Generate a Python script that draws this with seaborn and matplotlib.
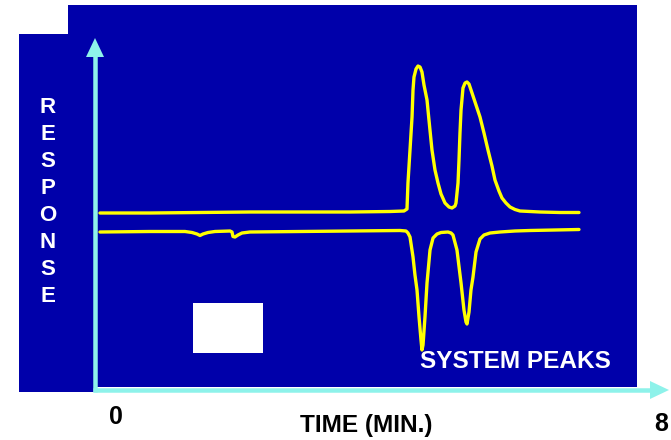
import matplotlib
matplotlib.use("Agg")
import matplotlib.pyplot as plt
from matplotlib.patches import Rectangle, Polygon
from matplotlib.lines import Line2D
import numpy as np
import pandas as pd
import seaborn as sns

# ---------------- data (time in min, response in arbitrary units) ----------------
upper_time = [0.071, 0.786, 1.5, 2.214, 2.929, 3.643, 4.214, 4.414, 4.457, 4.471,
              4.5, 4.529, 4.543, 4.557, 4.586, 4.614, 4.643, 4.671, 4.7, 4.743,
              4.771, 4.814, 4.857, 4.9, 4.943, 5.0, 5.057, 5.1, 5.143, 5.157,
              5.186, 5.2, 5.214, 5.229, 5.257, 5.286, 5.314, 5.343, 5.386, 5.443,
              5.5, 5.557, 5.614, 5.671, 5.714, 5.771, 5.814, 5.871, 5.929, 6.0,
              6.071, 6.357, 6.643, 6.914]
upper_resp = [17.7, 17.7, 17.75, 17.8, 17.8, 17.8, 17.85, 17.9, 18.1, 20.7,
              24.0, 27.3, 30.0, 31.3, 32.1, 32.4, 32.3, 31.8, 30.5, 29.0,
              27.0, 24.0, 22.0, 20.7, 19.6, 18.7, 18.3, 18.2, 18.4, 18.7,
              20.7, 23.0, 25.7, 28.0, 30.2, 30.7, 30.8, 30.6, 29.7, 28.5,
              27.3, 25.7, 24.0, 22.4, 21.0, 19.9, 19.2, 18.7, 18.3, 18.05,
              17.9, 17.8, 17.75, 17.75]

lower_time = [0.071, 0.786, 1.286, 1.386, 1.457, 1.5, 1.543, 1.614, 1.714, 1.929,
              1.957, 1.971, 2.0, 2.043, 2.1, 2.214, 2.929, 3.643, 4.357, 4.443,
              4.471, 4.5, 4.543, 4.571, 4.6, 4.629, 4.657, 4.671, 4.686, 4.714,
              4.743, 4.786, 4.829, 4.886, 4.943, 5.043, 5.086, 5.114, 5.171, 5.229,
              5.271, 5.3, 5.314, 5.343, 5.371, 5.4, 5.443, 5.5, 5.557, 5.643,
              5.786, 6.0, 6.214, 6.571, 6.914]
lower_resp = [15.8, 15.85, 15.85, 15.75, 15.6, 15.45, 15.6, 15.75, 15.85, 15.9,
              15.8, 15.35, 15.3, 15.5, 15.7, 15.8, 15.85, 15.9, 15.95, 15.9,
              15.7, 15.3, 13.3, 11.5, 10.0, 7.3, 5.0, 4.0, 4.5, 7.3,
              10.7, 14.0, 15.2, 15.6, 15.75, 15.8, 15.7, 15.5, 14.0, 10.7,
              8.0, 6.8, 6.6, 7.8, 10.0, 11.3, 13.8, 15.1, 15.5, 15.7,
              15.8, 15.9, 15.95, 16.0, 16.05]

x_tick_labels = ["0", "8"]
x_label = "TIME (MIN.)"
y_label = "RESPONSE"
annotation = "SYSTEM PEAKS"

# ---------------- styling ----------------
sns.set_style("white")
plt.rcParams["font.family"] = ["Liberation Sans", "DejaVu Sans"]

W, H = 671, 440
fig = plt.figure(figsize=(W / 100, H / 100), dpi=100, facecolor="white")
ax = fig.add_axes([0, 0, 1, 1])
ax.set_facecolor("white")
ax.axis("off")

BLUE = "#0000AA"
CYAN = "#8EF2EA"
YELLOW = "#FFFF00"


def fx(px):
    return px / W


def fy(py):
    return 1 - py / H


def rect(x0, y0, x1, y1, color, z):
    r = Rectangle((fx(x0), fy(y1)), fx(x1) - fx(x0), fy(y0) - fy(y1),
                  transform=fig.transFigure, facecolor=color, edgecolor="none",
                  zorder=z)
    ax.add_patch(r)


# background panels
rect(68, 5, 637, 387, BLUE, 0)
rect(19, 34, 95, 392, BLUE, 0)
# white box
rect(193, 303, 263, 353, "white", 1)

# traces
df_u = pd.DataFrame({"time": upper_time, "response": upper_resp})
df_l = pd.DataFrame({"time": lower_time, "response": lower_resp})
sns.lineplot(data=df_u, x="time", y="response", sort=False, estimator=None,
             color=YELLOW, linewidth=2.4, ax=ax, zorder=3)
sns.lineplot(data=df_l, x="time", y="response", sort=False, estimator=None,
             color=YELLOW, linewidth=2.4, ax=ax, zorder=3)

# axis limits so that t=0 sits on the vertical arrow
ax.set_xlim(-95 / 70, 576 / 70)
ax.set_ylim(-5.0, 39.0)
ax.axis("off")

# arrows (axes)
lw_pt = 4.5 * 0.72
ax.add_line(Line2D([fx(95), fx(95)], [fy(392), fy(56)], transform=fig.transFigure,
                   color=CYAN, linewidth=lw_pt, solid_capstyle="butt", zorder=4))
ax.add_patch(Polygon([(fx(86), fy(57)), (fx(104), fy(57)), (fx(95), fy(38))],
                     closed=True, transform=fig.transFigure, facecolor=CYAN,
                     edgecolor="none", zorder=4))
ax.add_line(Line2D([fx(93), fx(651)], [fy(390), fy(390)], transform=fig.transFigure,
                   color=CYAN, linewidth=lw_pt, solid_capstyle="butt", zorder=4))
ax.add_patch(Polygon([(fx(650), fy(381)), (fx(650), fy(399)), (fx(669), fy(390))],
                     closed=True, transform=fig.transFigure, facecolor=CYAN,
                     edgecolor="none", zorder=4))

# texts
fig.text(fx(116), fy(417), x_tick_labels[0], color="black", fontsize=18,
         fontweight="bold", ha="center", va="center")
fig.text(fx(661), fy(424), x_tick_labels[1], color="black", fontsize=18,
         fontweight="bold", ha="center", va="center")
fig.text(fx(366), fy(425), x_label, color="black", fontsize=17.6,
         fontweight="bold", ha="center", va="center")
fig.text(fx(515), fy(361), annotation, color="white", fontsize=17.6,
         fontweight="bold", ha="center", va="center", zorder=5)
fig.text(fx(48), fy(202), "\n".join(y_label), color="white", fontsize=16,
         fontweight="bold", ha="center", va="center", linespacing=1.37)

fig.savefig("out.png", dpi=100, facecolor="white")
